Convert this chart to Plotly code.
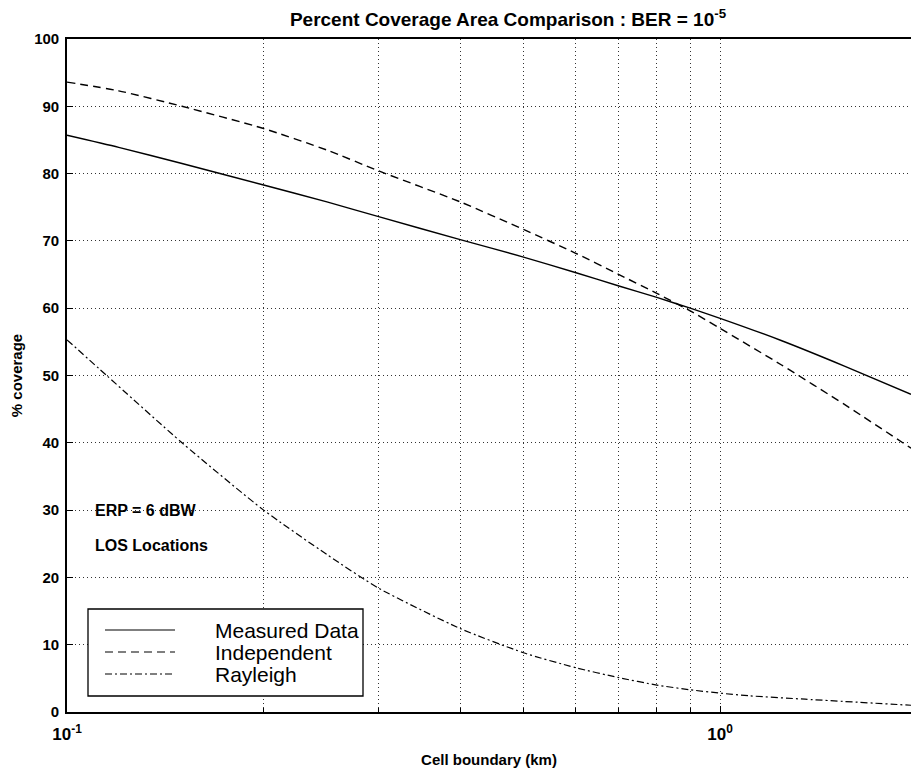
import math
import plotly.graph_objects as go

# ---- data ----
x_main = [0.1, 0.12, 0.15, 0.2, 0.25, 0.3, 0.4, 0.5, 0.6, 0.7, 0.8, 0.9, 1.0, 1.24, 1.55, 1.96]
measured = [85.7, 83.9, 81.5, 78.3, 75.8, 73.6, 70.2, 67.6, 65.3, 63.3, 61.6, 60.0, 58.5, 55.2, 51.4, 47.2]
independent = [93.6, 92.3, 90.0, 86.7, 83.5, 80.4, 75.8, 71.7, 68.2, 65.0, 62.2, 59.6, 57.0, 51.6, 45.7, 39.2]
x_ray = [0.1, 0.115, 0.15, 0.2, 0.25, 0.3, 0.4, 0.5, 0.6, 0.7, 0.8, 0.9, 1.0, 1.11, 1.35, 1.96]
rayleigh = [55.3, 50.0, 40.0, 30.0, 23.4, 18.4, 12.4, 8.8, 6.6, 5.1, 4.0, 3.3, 2.8, 2.4, 1.9, 1.0]

series_names = ["Measured Data", "Independent", "Rayleigh"]
y_ticks = [0, 10, 20, 30, 40, 50, 60, 70, 80, 90, 100]
x_major = [0.1, 1.0]
x_major_text = ["10<sup>-1</sup>", "10<sup>0</sup>"]
x_minor = [0.2, 0.3, 0.4, 0.5, 0.6, 0.7, 0.8, 0.9, 2.0]

FONT = "Liberation Sans, Arial, Helvetica, sans-serif"
W, H = 911, 770
L, R, T, B = 67, 911, 39, 712  # plot area in pixels

def px(xp):
    return (xp - L) / (R - L)

def py(yp):
    return (B - yp) / (B - T)

dash_ind = "8px,5px"
dash_ray = "7px,3px,2px,3px"
GRID = "#333"
GRID_DASH = "1px,3px"

fig = go.Figure()
fig.add_trace(go.Scatter(x=x_main, y=measured, mode="lines", name=series_names[0],
                         line=dict(color="black", width=1.4, shape="spline", smoothing=0.6)))
fig.add_trace(go.Scatter(x=x_main, y=independent, mode="lines", name=series_names[1],
                         line=dict(color="black", width=1.4, dash=dash_ind, shape="spline", smoothing=0.6)))
fig.add_trace(go.Scatter(x=x_ray, y=rayleigh, mode="lines", name=series_names[2],
                         line=dict(color="black", width=1.2, dash=dash_ray, shape="spline", smoothing=0.6)))

fig.update_layout(
    width=W, height=H,
    margin=dict(l=L, r=W - R, t=T, b=H - B, pad=0),
    paper_bgcolor="white", plot_bgcolor="white",
    showlegend=False,
    font=dict(family=FONT, color="black", size=15),
    title=dict(text="<b>Percent Coverage Area Comparison : BER = 10<sup>-5</sup></b>",
               xref="paper", x=(508 - L) / (R - L), xanchor="center",
               yref="container", y=1 - 19 / H, yanchor="middle",
               font=dict(family=FONT, size=19, color="black")),
    xaxis=dict(type="log", range=[-1, math.log10(1.96)],
               tickmode="array", tickvals=x_major, ticktext=["<b>" + t + "</b>" for t in x_major_text],
               ticks="inside", ticklen=6, tickcolor="black", ticklabelstandoff=6,
               showline=True, linecolor="black", linewidth=1.5, mirror=True,
               showgrid=True, gridcolor=GRID, griddash=GRID_DASH, gridwidth=1,
               tickfont=dict(family=FONT, size=17, color="black"),
               minor=dict(tickmode="array", tickvals=x_minor, showgrid=True,
                          gridcolor=GRID, griddash=GRID_DASH, gridwidth=1,
                          ticks="inside", ticklen=4, tickcolor="black"),
               zeroline=False,
               title=dict(text="<b>Cell boundary (km)</b>", standoff=11,
                          font=dict(family=FONT, size=15, color="black"))),
    yaxis=dict(range=[0, 100], tickmode="array", tickvals=y_ticks,
               ticktext=["<b>%d</b>" % v for v in y_ticks],
               ticks="inside", ticklen=6, tickcolor="black", ticklabelstandoff=3,
               showline=True, linecolor="black", linewidth=1.6, mirror=False,
               showgrid=True, gridcolor=GRID, griddash=GRID_DASH, gridwidth=1,
               tickfont=dict(family=FONT, size=15, color="black"),
               zeroline=False,
               title=dict(text="<b>% coverage</b>", standoff=8,
                          font=dict(family=FONT, size=15, color="black"))),
)

# text notes
fig.add_annotation(text="<b>ERP = 6 dBW</b>", x=px(93), y=py(511), xref="paper", yref="paper",
                   xanchor="left", yanchor="middle", showarrow=False,
                   font=dict(family=FONT, size=16, color="black"))
fig.add_annotation(text="<b>LOS Locations</b>", x=px(93), y=py(545), xref="paper", yref="paper",
                   xanchor="left", yanchor="middle", showarrow=False,
                   font=dict(family=FONT, size=16, color="black"))

# manual legend box
fig.add_shape(type="rect", xref="paper", yref="paper",
              x0=px(88), x1=px(363), y0=py(696), y1=py(609),
              line=dict(color="black", width=1.3), fillcolor="white", layer="above")
legend_rows = [630, 652, 674]
legend_dash = ["solid", dash_ind, dash_ray]
for name, row, dsh in zip(series_names, legend_rows, legend_dash):
    fig.add_shape(type="line", xref="paper", yref="paper",
                  x0=px(105), x1=px(175), y0=py(row), y1=py(row),
                  line=dict(color="black", width=1.2, dash=dsh), layer="above")
    fig.add_annotation(text=name, x=px(214), y=py(row), xref="paper", yref="paper",
                       xanchor="left", yanchor="middle", showarrow=False,
                       borderpad=0, font=dict(family=FONT, size=21, color="black"))

fig.write_html("out.html")
